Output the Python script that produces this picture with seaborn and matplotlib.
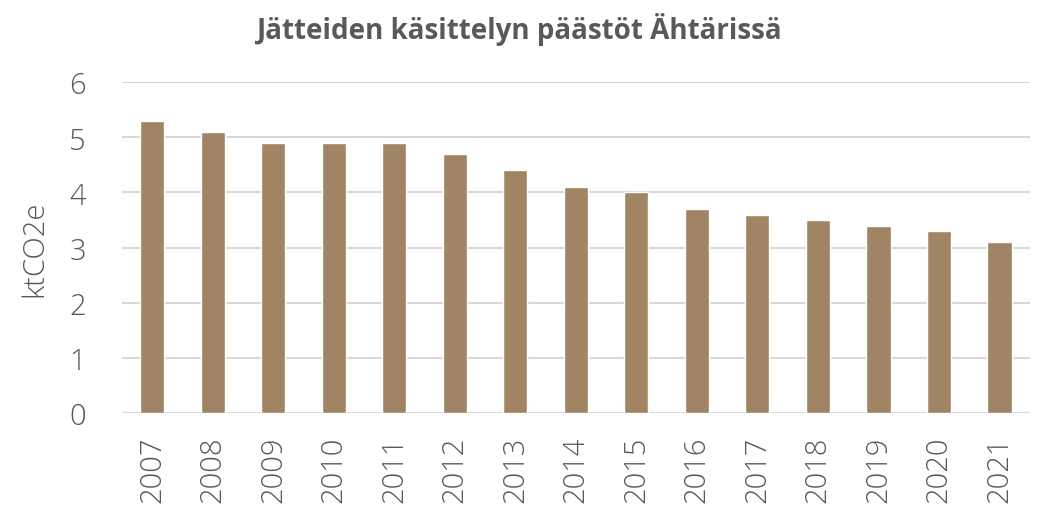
import matplotlib
matplotlib.use("Agg")
import matplotlib.pyplot as plt
import seaborn as sns
import pandas as pd

years = ["2007", "2008", "2009", "2010", "2011", "2012", "2013", "2014",
         "2015", "2016", "2017", "2018", "2019", "2020", "2021"]
values = [5.3, 5.1, 4.9, 4.9, 4.9, 4.7, 4.4, 4.1, 4.0, 3.7, 3.6, 3.5, 3.4, 3.3, 3.1]
y_ticks = [0, 1, 2, 3, 4, 5, 6]
title = "Jätteiden käsittelyn päästöt Ähtärissä"
y_label = "ktCO2e"

sns.set_theme(style="white")
plt.rcParams['font.family'] = ['Open Sans', 'DejaVu Sans']

df = pd.DataFrame({"year": years, "value": values})

fig = plt.figure(figsize=(10.38, 5.10), dpi=100)
ax = fig.add_axes([0.1175, 0.188, 0.8745, 0.649])
sns.barplot(data=df, x="year", y="value", color="#A08464", width=0.4,
            saturation=1, ax=ax, zorder=3)

ax.set_ylim(0, 6)
ax.set_yticks(y_ticks)
ax.set_xlim(-0.5, len(years) - 0.5)
ax.grid(axis="y", color="#D9D9D9", linewidth=1.5, zorder=0)
ax.set_axisbelow(True)
for s in ax.spines.values():
    s.set_visible(False)
ax.tick_params(axis="both", length=0, labelsize=21, colors="#595959")
ax.tick_params(axis="y", pad=26)
ax.tick_params(axis="x", rotation=90, pad=16)
for lbl in ax.get_xticklabels() + ax.get_yticklabels():
    lbl.set_fontweight("light")
ax.set_xlabel("")
ax.set_ylabel(y_label, fontsize=21, color="#595959", labelpad=14, fontweight="light")
fig.suptitle(title, fontsize=20, fontweight="bold", color="#595959", y=0.975)

fig.savefig("out.png", dpi=100)
